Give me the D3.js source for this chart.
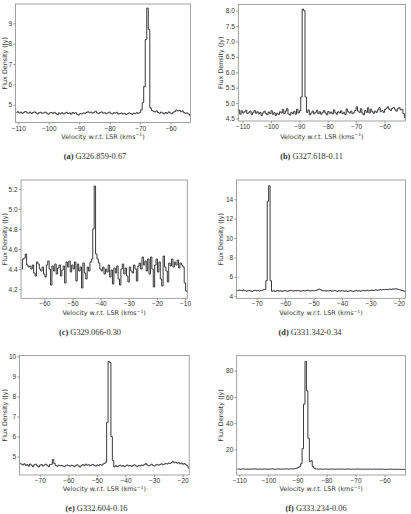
<!DOCTYPE html>
<html><head><meta charset="utf-8">
<script src="https://cdn.jsdelivr.net/npm/d3@7"></script>
<style>body{margin:0;background:#fff}svg{display:block}</style>
</head><body>
<script>
// ---------- DATA ----------
const chanWidth = 0.5; // km/s per channel
const captions = ["G326.859-0.67","G327.618-0.11","G329.066-0.30","G331.342-0.34","G332.604-0.16","G333.234-0.06"];
const letters = ["a","b","c","d","e","f"];

const velStartA = -110.85;
const fluxA = [4.62,4.66,4.60,4.64,4.58,4.63,4.67,4.61,4.59,4.64,
4.57,4.62,4.65,4.60,4.55,4.61,4.63,4.58,4.60,4.64,
4.59,4.54,4.60,4.62,4.57,4.63,4.58,4.52,4.60,4.56,
4.61,4.55,4.59,4.63,4.57,4.60,4.54,4.62,4.58,4.61,
4.53,4.50,4.57,4.55,4.60,4.58,4.62,4.66,4.61,4.64,
4.59,4.63,4.68,4.60,4.57,4.62,4.65,4.59,4.61,4.56,
4.60,4.64,4.58,4.55,4.61,4.59,4.63,4.54,4.57,4.60,
4.55,4.58,4.52,4.56,4.60,4.57,4.54,4.59,4.56,4.61,
4.58,4.62,
4.75,5.10,5.90,8.20,9.75,8.70,4.85,
4.72,4.68,4.65,4.70,4.62,4.58,4.64,4.60,4.55,4.62,4.58,4.65,4.60,4.56,4.63,4.67,4.74,4.70,4.73,4.66,4.70,4.62,4.58,4.60,4.55,4.48];

const velStartB = -112.0;
const fluxB = [4.70,4.78,4.64,4.75,4.68,4.72,4.77,4.66,4.70,4.74,
4.63,4.69,4.76,4.67,4.72,4.65,4.70,4.60,4.68,4.74,
4.66,4.62,4.71,4.66,4.75,4.64,4.69,4.60,4.67,4.63,
4.72,4.68,4.80,4.66,4.74,4.82,4.65,4.61,4.70,4.66,
4.73,4.64,4.80,4.68,
4.75,5.20,8.05,8.00,5.20,4.70,
4.78,4.62,4.68,4.74,4.65,4.70,4.77,4.66,4.72,4.64,
4.70,4.76,4.68,4.62,4.73,4.67,4.71,4.65,4.78,4.69,
4.64,4.72,4.68,4.75,4.66,4.70,4.63,4.81,4.72,4.68,
4.74,4.66,4.70,4.76,4.88,4.74,4.70,4.82,4.68,4.62,
4.76,4.70,4.85,4.68,4.80,4.72,4.67,4.74,4.70,4.78,
4.85,4.72,4.76,4.70,4.79,4.84,4.88,4.80,4.76,4.83,
4.86,4.80,4.74,4.82,4.85,4.78,4.80,4.66,4.52];

const velStartC = -68.3;
const fluxC = [4.40,4.50,4.51,4.55,4.44,4.42,4.43,4.40,4.44,4.36,
4.33,4.47,4.45,4.40,4.38,4.42,4.35,4.32,4.44,4.48,
4.40,4.24,4.43,4.38,4.45,4.35,4.41,4.44,4.33,4.39,
4.43,4.26,4.47,4.42,4.48,4.37,4.44,4.40,4.47,4.28,
4.45,4.38,4.42,4.21,4.46,4.36,4.30,4.42,4.38,4.47,
4.50,4.80,5.23,4.55,
4.50,4.46,4.40,4.38,4.42,4.35,4.40,4.37,4.44,4.32,
4.39,4.25,4.41,4.36,4.43,4.30,4.24,4.40,4.45,4.35,
4.41,4.33,4.27,4.42,4.38,4.36,4.44,4.40,4.28,4.43,
4.46,4.40,4.52,4.44,4.48,4.38,4.50,4.35,4.52,4.40,
4.22,4.44,4.50,4.37,4.47,4.30,4.23,4.53,4.42,4.38,
4.27,4.46,4.43,4.50,4.42,4.47,4.44,4.49,4.41,4.46,
4.44,4.42,4.26,4.18,4.17];

const velStartD = -77.3;
const fluxD = [4.62,4.58,4.64,4.60,4.56,4.63,4.59,4.52,4.57,4.61,
4.55,4.50,4.58,4.62,4.56,4.60,4.54,4.59,4.63,4.66,4.70,
5.60,13.80,15.40,5.60,
4.52,4.58,4.48,4.55,4.60,4.53,4.57,4.50,4.55,4.59,
4.54,4.51,4.58,4.62,4.56,4.53,4.59,4.55,4.61,4.57,
4.52,4.56,4.60,4.55,4.58,4.63,4.57,4.54,4.60,4.56,
4.59,4.62,4.66,4.74,4.68,4.60,4.56,4.58,4.53,4.57,
4.55,4.59,4.52,4.56,4.60,4.54,4.50,4.57,4.53,4.58,
4.55,4.52,4.56,4.49,4.54,4.58,4.53,4.50,4.55,4.59,
4.54,4.57,4.52,4.56,4.60,4.55,4.58,4.62,4.57,4.60,
4.64,4.59,4.62,4.66,4.61,4.64,4.68,4.65,4.70,4.67,
4.72,4.68,4.71,4.75,4.70,4.76,4.73,4.78,4.74,4.70,
4.66,4.62,4.58,4.52,4.45];

const velStartE = -77.1;
const fluxE = [4.66,4.62,4.58,4.64,4.55,4.60,4.52,4.63,4.57,4.50,
4.59,4.62,4.54,4.48,4.57,4.60,4.53,4.58,4.62,4.56,
4.50,4.60,4.62,4.85,4.66,4.55,4.52,4.57,4.54,4.56,
4.53,4.50,4.56,4.58,4.55,4.52,4.57,4.54,4.50,4.56,
4.59,4.53,4.48,4.56,4.60,4.55,4.62,4.57,4.59,4.54,
4.58,4.61,4.56,4.53,4.58,4.55,4.60,4.57,4.62,4.66,
4.72,
6.70,9.75,9.70,6.00,4.80,
4.48,4.55,4.50,4.53,4.57,4.52,4.55,4.50,4.54,4.58,
4.53,4.56,4.51,4.55,4.59,4.54,4.50,4.56,4.53,4.58,
4.55,4.60,4.65,4.58,4.54,4.57,4.62,4.56,4.53,4.58,
4.61,4.57,4.60,4.64,4.59,4.62,4.66,4.63,4.68,4.65,
4.70,4.76,4.69,4.72,4.67,4.70,4.64,4.68,4.62,4.65,
4.60,4.54,4.42];

const velStartF = -110.9;
const fluxF = [4.9,5.0,4.8,4.9,5.1,4.9,4.8,5.0,4.9,4.8,
5.0,4.9,5.1,4.9,4.8,4.9,5.0,4.8,4.9,5.0,
4.9,4.8,5.0,4.9,5.1,4.9,4.8,4.9,5.0,4.9,
4.8,5.0,4.9,5.0,5.1,4.9,5.0,5.1,5.0,5.2,
5.3,5.6,
6.2,6.8,9.0,20.5,54.5,87.0,64.7,28.4,10.5,11.3,7.0,5.6,5.0,
5.0,4.9,5.0,4.9,4.8,4.9,5.0,4.9,4.8,4.9,
5.0,4.9,4.8,4.9,4.9,5.0,4.8,4.9,4.9,4.8,
4.9,5.0,4.9,4.8,4.9,4.9,4.8,4.9,5.0,4.9,
4.8,4.9,4.8,4.9,4.9,4.8,4.9,4.8,4.8,4.9,
4.8,4.9,4.8,4.8,4.9,4.8,4.8,4.7,4.8,4.8,
4.9,4.8,4.7,4.8,4.8,4.7,4.8,4.7,4.7,4.8,
4.7,4.6];

// axis extents (km/s, Jy)
const xDomA = [-110.9,-53.5], yDomA = [4.13,9.95];
const xDomB = [-111.5,-52.6], yDomB = [4.42,8.2];
const xDomC = [-68.3,-9.2],   yDomC = [4.107,5.29];
const xDomD = [-77.1,-17.7],  yDomD = [3.79,15.99];
const xDomE = [-77.1,-17.7],  yDomE = [4.08,10.05];
const xDomF = [-110.9,-52.8], yDomF = [0.4,91.45];

// tick values
const xTicksA = [-110,-100,-90,-80,-70,-60], yTicksA = [5,6,7,8,9];
const xTicksB = [-110,-100,-90,-80,-70,-60], yTicksB = [4.5,5.0,5.5,6.0,6.5,7.0,7.5,8.0];
const xTicksC = [-60,-50,-40,-30,-20,-10],   yTicksC = [4.2,4.4,4.6,4.8,5.0,5.2];
const xTicksD = [-70,-60,-50,-40,-30,-20],   yTicksD = [4,6,8,10,12,14];
const xTicksE = [-70,-60,-50,-40,-30,-20],   yTicksE = [5,6,7,8,9,10];
const xTicksF = [-110,-100,-90,-80,-70,-60], yTicksF = [20,40,60,80];

// ---------- LAYOUT ----------
const panels = [
 {v0:velStartA, flux:fluxA, xd:xDomA, yd:yDomA, xt:xTicksA, yt:yTicksA, yf:"d",
  box:{l:15.5,r:190.5,t:4,b:122.5}, ylx:4.5, xly:138.5, cx:95, cy:158.5},
 {v0:velStartB, flux:fluxB, xd:xDomB, yd:yDomB, xt:xTicksB, yt:yTicksB, yf:".1f",
  box:{l:238.3,r:405.5,t:4.5,b:121}, ylx:220.5, xly:138.5, cx:311.5, cy:158.5},
 {v0:velStartC, flux:fluxC, xd:xDomC, yd:yDomC, xt:xTicksC, yt:yTicksC, yf:".1f",
  box:{l:21,r:187.3,t:180,b:298.3}, ylx:4.5, xly:315, cx:90, cy:335},
 {v0:velStartD, flux:fluxD, xd:xDomD, yd:yDomD, xt:xTicksD, yt:yTicksD, yf:"d",
  box:{l:236.5,r:405.5,t:180,b:298.3}, ylx:220.5, xly:315, cx:310, cy:335},
 {v0:velStartE, flux:fluxE, xd:xDomE, yd:yDomE, xt:xTicksE, yt:yTicksE, yf:"d",
  box:{l:19.5,r:189.2,t:355.5,b:475}, ylx:4.5, xly:491, cx:96.5, cy:511},
 {v0:velStartF, flux:fluxF, xd:xDomF, yd:yDomF, xt:xTicksF, yt:yTicksF, yf:"d",
  box:{l:236.7,r:405.5,t:355.7,b:475}, ylx:220.5, xly:491, cx:316, cy:511}
];

const W = 411, H = 514;
const svg = d3.select("body").append("svg").attr("width",W).attr("height",H)
  .attr("font-family","'DejaVu Sans', sans-serif");
const defs = svg.append("defs");
const textCol = "#333", lineCol = "#3a3a3a", frameCol = "#8a8a8a";

panels.forEach((p,k)=>{
  const x = d3.scaleLinear().domain(p.xd).range([p.box.l,p.box.r]);
  const y = d3.scaleLinear().domain(p.yd).range([p.box.b,p.box.t]);
  const g = svg.append("g");
  const cid = "clip"+k;
  defs.append("clipPath").attr("id",cid).append("rect")
    .attr("x",p.box.l).attr("y",p.box.t).attr("width",p.box.r-p.box.l).attr("height",p.box.b-p.box.t);

  const pts = p.flux.map((f,i)=>({v:p.v0+chanWidth*(i+0.5), f}));
  const line = d3.line().x(d=>x(d.v)).y(d=>y(d.f)).curve(d3.curveStep);
  g.append("path").attr("d",line(pts)).attr("clip-path",`url(#${cid})`)
    .attr("fill","none").attr("stroke",lineCol).attr("stroke-width",1).attr("stroke-linejoin","miter");

  // axes
  const xa = d3.axisBottom(x).tickValues(p.xt).tickFormat(d3.format("d")).tickSize(2.2).tickPadding(1.2);
  const ya = d3.axisLeft(y).tickValues(p.yt).tickFormat(d3.format(p.yf)).tickSize(2.2).tickPadding(1.2);
  const gx = g.append("g").attr("transform",`translate(0,${p.box.b})`).call(xa);
  const gy = g.append("g").attr("transform",`translate(${p.box.l},0)`).call(ya);
  [gx,gy].forEach(a=>{
    a.select(".domain").remove();
    a.selectAll("line").attr("stroke","#555").attr("stroke-width",0.6);
    a.selectAll("text").attr("fill",textCol).attr("font-size","6.5px");
  });
  // frame
  g.append("rect").attr("x",p.box.l).attr("y",p.box.t)
    .attr("width",p.box.r-p.box.l).attr("height",p.box.b-p.box.t)
    .attr("fill","none").attr("stroke",frameCol).attr("stroke-width",0.8);

  // x label
  const xl = g.append("text").attr("x",(p.box.l+p.box.r)/2).attr("y",p.xly)
    .attr("text-anchor","middle").attr("font-size","6.4px").attr("fill",textCol);
  xl.append("tspan").text("Velocity w.r.t. LSR (kms");
  xl.append("tspan").attr("dy",-2.3).attr("font-size","4.5px").text("\u22121");
  xl.append("tspan").attr("dy",2.3).text(")");
  // y label
  g.append("text").attr("transform",`translate(${p.ylx+2},${(p.box.t+p.box.b)/2}) rotate(-90)`)
    .attr("text-anchor","middle").attr("font-size","6.4px").attr("fill",textCol)
    .text("Flux Density (Jy)");
  // caption
  const cap = g.append("text").attr("x",p.cx).attr("y",p.cy).attr("text-anchor","middle")
    .attr("font-family","'Liberation Serif', 'DejaVu Serif', serif").attr("font-size","8.4px").attr("fill","#333");
  cap.append("tspan").attr("font-weight","bold").text(`(${letters[k]})`);
  cap.append("tspan").text(" " + captions[k]);
});
</script>
</body></html>
